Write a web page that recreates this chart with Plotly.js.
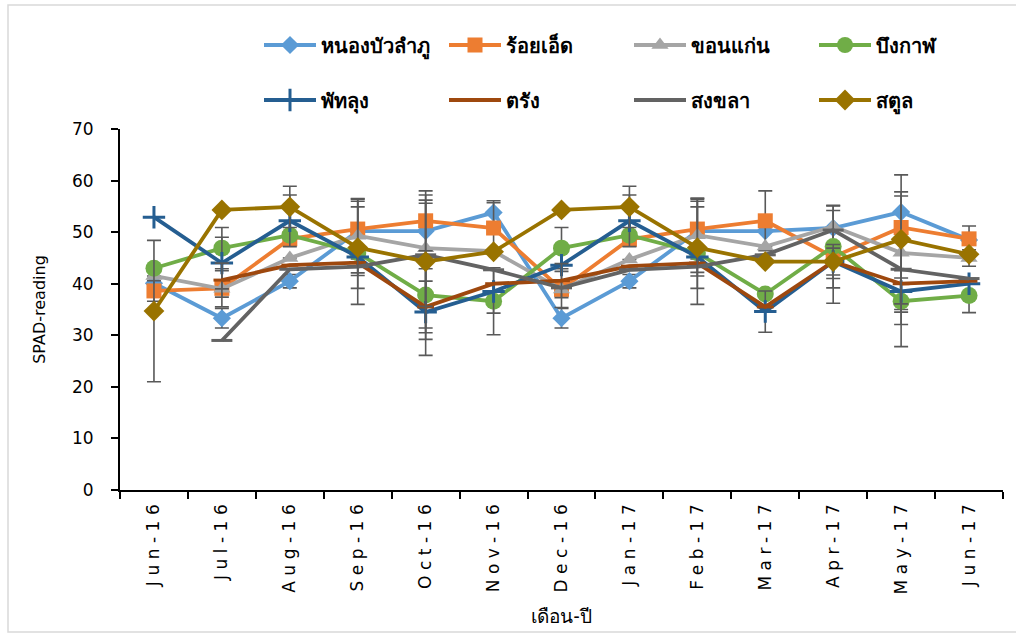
<!DOCTYPE html>
<html>
<head>
<meta charset="utf-8">
<script src="https://cdn.plot.ly/plotly-3.0.1.min.js"></script>
<style>
html,body{margin:0;padding:0;background:#fff;}
#chart{width:1016px;height:639px;}
.xtick text{letter-spacing:5.5px;}
</style>
</head>
<body>
<div id="chart"></div>
<script>
const months = ['Jun-16','Jul-16','Aug-16','Sep-16','Oct-16','Nov-16','Dec-16','Jan-17','Feb-17','Mar-17','Apr-17','May-17','Jun-17'];

const seriesNames = ['หนองบัวลำภู','ร้อยเอ็ด','ขอนแก่น','บึงกาฬ','พัทลุง','ตรัง','สงขลา','สตูล'];

const nongbua     = [40.1, 33.3, 40.5, 50.2, 50.2, 53.8, 33.3, 40.5, 50.2, 50.2, 50.8, 53.9, 48.5];
const roiet       = [38.6, 39.1, 48.7, 50.6, 52.2, 50.8, 38.9, 48.6, 50.6, 52.2, 45.2, 50.9, 48.7];
const khonkaen    = [41.5, 39.0, 45.0, 49.3, 46.9, 46.3, 38.9, 44.7, 49.4, 47.2, 51.1, 46.0, 45.0];
const bungkan     = [43.0, 46.9, 49.4, 46.0, 37.8, 36.6, 46.9, 49.4, 46.0, 38.0, 47.2, 36.6, 37.7];
const phatthalung = [52.9, 44.0, 52.2, 45.2, 34.5, 38.5, 43.6, 52.2, 45.2, 34.6, 44.3, 38.5, 40.0];
const trang       = [null, 40.7, 43.6, 44.1, 35.5, 40.0, 40.6, 43.4, 44.0, 35.5, 44.3, 40.0, 40.5];
const songkhla    = [null, 29.0, 42.8, 43.3, 45.6, 42.7, 39.2, 42.7, 43.3, 45.6, 50.4, 42.8, 41.0];
const satun       = [34.7, 54.3, 54.9, 47.0, 44.3, 46.2, 54.3, 54.9, 47.0, 44.3, 44.3, 48.6, 45.7];

const errNongbua     = [null, 1.9, 1.3, null, null, 2.3, 1.9, 1.3, null, null, null, null, null];
const errRoiet       = [2.0, null, null, 5.8, 5.8, 4.9, null, null, 5.8, 5.8, 9.0, null, 2.5];
const errKhonkaen    = [null, 3.5, null, 7.2, 9.3, null, 3.5, null, 7.2, null, 4.0, 11.0, 1.6];
const errBungkan     = [null, 4.0, null, 10.0, 8.6, 6.5, 4.0, null, 10.0, null, 8.0, 4.5, 3.3];
const errPhatthalung = [null, 5.0, 5.0, null, 8.4, 4.2, null, 5.0, null, 4.0, 2.6, 4.0, null];
const errTrang       = [null, 3.3, null, 2.5, 5.0, null, 3.3, null, 2.5, null, 3.3, null, null];
const errSongkhla    = [null, null, null, null, 10.0, null, null, null, null, null, null, 15.0, null];
const errSatun       = [13.7, null, 4.0, 7.9, 12.9, null, null, 4.0, 7.9, null, null, 12.5, null];

const values = [nongbua, roiet, khonkaen, bungkan, phatthalung, trang, songkhla, satun];
const errors = [errNongbua, errRoiet, errKhonkaen, errBungkan, errPhatthalung, errTrang, errSongkhla, errSatun];
const colors = ['#5B9BD5','#ED7D31','#A5A5A5','#70AD47','#255E91','#9E480E','#636363','#997300'];
const symbols = ['diamond','square','triangle-up','circle','cross-thin','line-ew','line-ew','diamond'];
const sizes = [14, 15, 15, 17, 16, 12, 15, 16];

const traces = values.map((v, i) => {
  const thinLike = symbols[i] === 'cross-thin' || symbols[i] === 'line-ew';
  return {
    type: 'scatter',
    mode: 'lines+markers',
    name: seriesNames[i],
    x: months,
    y: v,
    legend: i < 4 ? 'legend' : 'legend2',
    line: {color: colors[i], width: 3.8},
    marker: {
      symbol: symbols[i],
      size: sizes[i],
      color: colors[i],
      line: thinLike ? {color: colors[i], width: 3} : {width: 0}
    },
    error_y: {
      type: 'data',
      array: errors[i],
      visible: true,
      color: '#595959',
      thickness: 1.6,
      width: 7
    },
    cliponaxis: false
  };
});

const fontFam = 'DejaVu Sans, Noto Sans, sans-serif';
const thaiFam = 'Noto Sans, DejaVu Sans, sans-serif';

function legendCfg(yPx) {
  return {
    orientation: 'h',
    xref: 'container',
    yref: 'container',
    x: 259 / 1016,
    xanchor: 'left',
    y: 1 - yPx / 639,
    yanchor: 'middle',
    entrywidth: 118,
    entrywidthmode: 'pixels',
    itemwidth: 52,
    font: {family: thaiFam, size: 20, color: '#000', weight: 'bold'},
    bgcolor: 'rgba(0,0,0,0)',
    traceorder: 'normal'
  };
}

const layout = {
  width: 1016,
  height: 639,
  margin: {l: 120, r: 13, t: 129, b: 149},
  paper_bgcolor: '#ffffff',
  plot_bgcolor: '#ffffff',
  showlegend: true,
  xaxis: {
    type: 'category',
    range: [-0.5, 12.5],
    tickson: 'boundaries',
    ticks: 'outside',
    ticklen: 7,
    tickwidth: 2,
    tickcolor: '#000',
    showline: true,
    linecolor: '#000',
    linewidth: 2,
    showgrid: false,
    zeroline: false,
    tickangle: -90,
    tickfont: {family: fontFam, size: 17, color: '#000'},
    title: {text: 'เดือน-ปี', font: {family: thaiFam, size: 19, color: '#000'}, standoff: 16},
    automargin: false
  },
  yaxis: {
    range: [0, 70],
    dtick: 10,
    ticks: 'outside',
    ticklen: 7,
    tickwidth: 2,
    tickcolor: '#000',
    ticklabelstandoff: 14,
    showline: true,
    linecolor: '#000',
    linewidth: 2,
    showgrid: false,
    zeroline: false,
    tickfont: {family: fontFam, size: 17, color: '#000'},
    title: {text: 'SPAD-reading', font: {family: fontFam, size: 16, color: '#000'}, standoff: 22},
    automargin: false
  },
  legend: legendCfg(45),
  legend2: legendCfg(100),
  shapes: [{
    type: 'rect', xref: 'paper', yref: 'paper',
    x0: (8 - 120) / 883, x1: (1030 - 120) / 883,
    y0: (490 - 632) / 361, y1: (490 - 5) / 361,
    line: {color: '#D9D9D9', width: 1.5},
    fillcolor: 'rgba(0,0,0,0)',
    layer: 'below'
  }]
};

Plotly.newPlot('chart', traces, layout, {displayModeBar: false, staticPlot: true});
</script>
</body>
</html>
